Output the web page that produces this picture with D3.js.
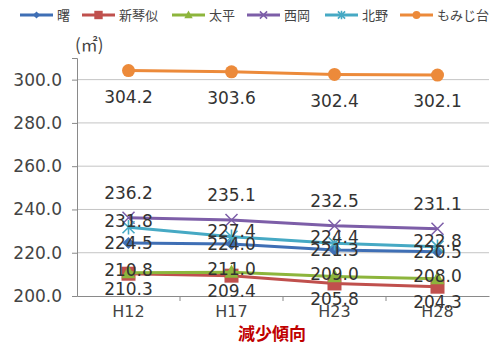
<!DOCTYPE html>
<html><head><meta charset="utf-8">
<script src="https://cdn.jsdelivr.net/npm/d3@7"></script>
<style>
html,body{margin:0;padding:0;background:#fff;}
svg{display:block;}
</style></head>
<body>
<svg id="chart" width="490" height="347"></svg>
<script>
// Floor area per dwelling (㎡) by district and survey year
const years = ["H12", "H17", "H23", "H28"];
const seriesNames = ["曙", "新琴似", "太平", "西岡", "北野", "もみじ台"];
const akebono   = [224.5, 224.0, 221.3, 220.5];
const shinkotoni = [210.3, 209.4, 205.8, 204.3];
const taihei    = [210.8, 211.0, 209.0, 208.0];
const nishioka  = [236.2, 235.1, 232.5, 231.1];
const kitano    = [231.8, 227.4, 224.4, 222.8];
const momijidai = [304.2, 303.6, 302.4, 302.1];
const yTicks = [200, 220, 240, 260, 280, 300];
const unitLabel = "(㎡)";
const noteText = "減少傾向";

const seriesValues = [akebono, shinkotoni, taihei, nishioka, kitano, momijidai];
const colors = ["#3f6fb5", "#c0504d", "#8db53c", "#7d5ea8", "#46a9c4", "#ec8a3a"];
const markers = ["diamond", "square", "triangle", "x", "asterisk", "circle"];
const labelDy = [0, 15, -3, -25, -6, 26];

const svg = d3.select("#chart");
const plotLeft = 77, plotRight = 489, plotTop = 58, plotBottom = 296;

const x = d3.scaleBand().domain(years).range([plotLeft, plotRight]);
const y = d3.scaleLinear().domain([200, 310]).range([plotBottom, plotTop]);

const font = "'DejaVu Sans', sans-serif";

// gridlines
svg.append("g").selectAll("line").data(yTicks.filter(d => d > 200)).join("line")
  .attr("x1", plotLeft).attr("x2", plotRight)
  .attr("y1", d => y(d)).attr("y2", d => y(d))
  .attr("stroke", "#c4c4c4").attr("stroke-width", 1);

// y axis
const yAxis = svg.append("g").attr("transform", `translate(${plotLeft},0)`)
  .call(d3.axisLeft(y).tickValues(yTicks).tickFormat(d3.format(".1f")).tickSize(5).tickPadding(8));
yAxis.select(".domain").attr("stroke", "#8a8a8a");
yAxis.selectAll(".tick line").attr("stroke", "#8a8a8a");
yAxis.selectAll(".tick text").attr("font-family", font).attr("font-size", 17)
  .attr("fill", "#444").attr("dx", -2);

// x axis
const xAxis = svg.append("g").attr("transform", `translate(0,${plotBottom})`)
  .call(d3.axisBottom(x).tickSize(0).tickPadding(10));
xAxis.select(".domain").attr("stroke", "#8a8a8a");
xAxis.selectAll(".tick text").attr("font-family", font).attr("font-size", 16).attr("fill", "#444");
// category boundary ticks
svg.append("g").selectAll("line").data(years.slice(1)).join("line")
  .attr("x1", d => x(d)).attr("x2", d => x(d))
  .attr("y1", plotBottom).attr("y2", plotBottom + 5)
  .attr("stroke", "#8a8a8a");

// unit label
svg.append("text").attr("x", 75).attr("y", 51).text(unitLabel)
  .attr("font-family", "'Noto Sans CJK JP', sans-serif").attr("font-size", 17).attr("fill", "#444");

function drawMarker(g, type, color, cx, cy, s) {
  if (type === "diamond") {
    g.append("path").attr("d", `M${cx},${cy - s}L${cx + s},${cy}L${cx},${cy + s}L${cx - s},${cy}Z`).attr("fill", color);
  } else if (type === "square") {
    g.append("rect").attr("x", cx - s).attr("y", cy - s).attr("width", 2 * s).attr("height", 2 * s).attr("fill", color);
  } else if (type === "triangle") {
    g.append("path").attr("d", `M${cx},${cy - s * 1.1}L${cx + s},${cy + s * 0.8}L${cx - s},${cy + s * 0.8}Z`).attr("fill", color);
  } else if (type === "x") {
    g.append("path").attr("d", `M${cx - s},${cy - s}L${cx + s},${cy + s}M${cx + s},${cy - s}L${cx - s},${cy + s}`)
      .attr("stroke", color).attr("stroke-width", 1.5);
  } else if (type === "asterisk") {
    g.append("path").attr("d", `M${cx - s},${cy - s}L${cx + s},${cy + s}M${cx + s},${cy - s}L${cx - s},${cy + s}M${cx},${cy - s * 1.2}L${cx},${cy + s * 1.2}`)
      .attr("stroke", color).attr("stroke-width", 1.6);
  } else if (type === "circle") {
    g.append("circle").attr("cx", cx).attr("cy", cy).attr("r", s).attr("fill", color);
  }
}
const markerSize = [6, 7, 7, 6, 6, 6.5];

const line = d3.line().x((d, i) => x(years[i]) + x.bandwidth() / 2).y(d => y(d));

// series lines and markers
seriesValues.forEach((vals, si) => {
  const g = svg.append("g");
  g.append("path").datum(vals).attr("d", line)
    .attr("fill", "none").attr("stroke", colors[si]).attr("stroke-width", 3);
  vals.forEach((v, i) => drawMarker(g, markers[si], colors[si], x(years[i]) + x.bandwidth() / 2, y(v), markerSize[si]));
});

// data labels
seriesValues.forEach((vals, si) => {
  svg.append("g").selectAll("text").data(vals).join("text")
    .attr("x", (d, i) => x(years[i]) + x.bandwidth() / 2)
    .attr("y", d => y(d) + labelDy[si])
    .attr("dy", "0.36em")
    .attr("text-anchor", "middle")
    .attr("font-family", font).attr("font-size", 17).attr("fill", "#333")
    .text(d => d.toFixed(1));
});

// legend
const legendX = [20, 82, 172, 247, 325, 400];
const legend = svg.append("g");
seriesNames.forEach((name, si) => {
  const lx = legendX[si], ly = 15;
  legend.append("line").attr("x1", lx).attr("x2", lx + 33).attr("y1", ly).attr("y2", ly)
    .attr("stroke", colors[si]).attr("stroke-width", 3);
  drawMarker(legend, markers[si], colors[si], lx + 16.5, ly, markerSize[si] * 0.6);
  legend.append("text").attr("x", lx + 37).attr("y", ly).attr("dy", "0.36em")
    .attr("font-family", "'Noto Sans CJK JP', sans-serif").attr("font-size", 13).attr("fill", "#444")
    .text(name);
});

// note
svg.append("text").attr("x", 272).attr("y", 334).attr("dy", "0.36em").attr("text-anchor", "middle")
  .attr("font-family", "'Noto Sans CJK JP', sans-serif").attr("font-size", 17).attr("font-weight", 700)
  .attr("fill", "#c00000").text(noteText);
</script>
</body></html>
